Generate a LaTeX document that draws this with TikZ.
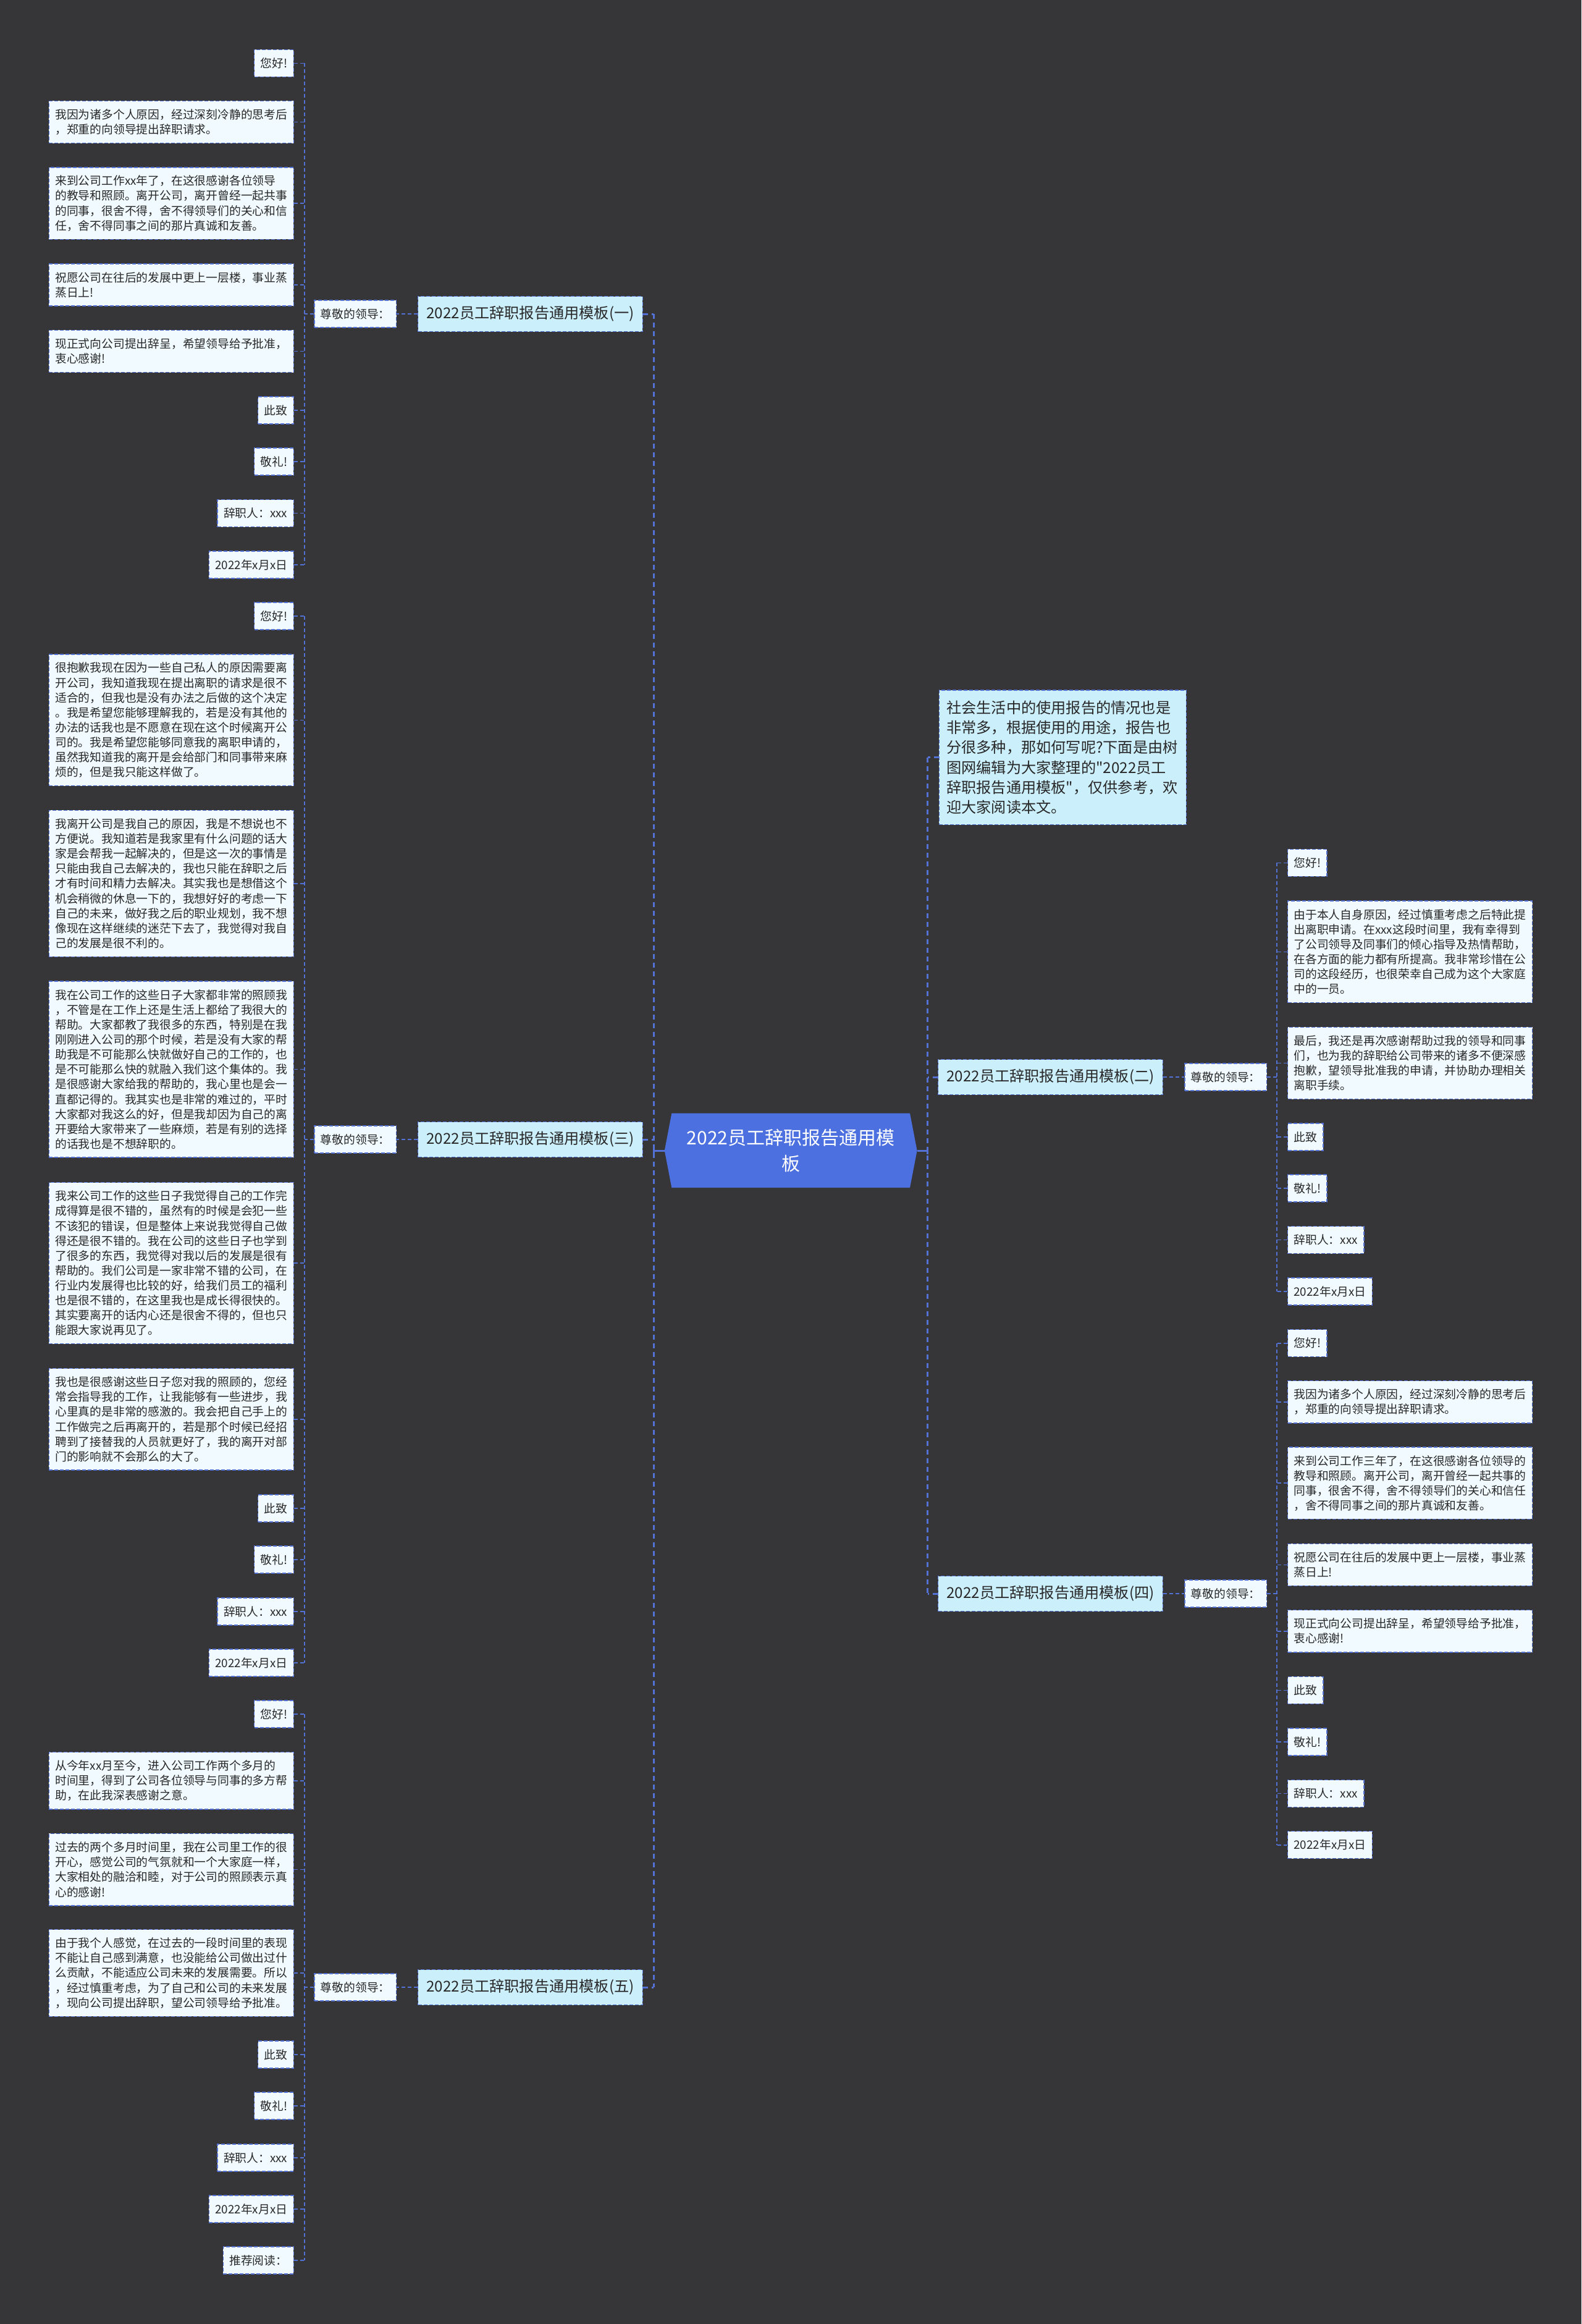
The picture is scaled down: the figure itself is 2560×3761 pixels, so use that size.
\documentclass[tikz,border=0pt]{standalone}
\usepackage{fontspec}
\newfontfamily\cjk{Noto Sans CJK SC}
\definecolor{bg}{RGB}{54,53,56}
\definecolor{leaffill}{RGB}{240,250,255}
\definecolor{branchfill}{RGB}{204,239,252}
\definecolor{rootfill}{RGB}{76,112,224}
\definecolor{edge}{RGB}{84,114,214}
\definecolor{txt}{RGB}{40,40,40}
\begin{document}
\begin{tikzpicture}[x=1pt,y=-1pt,
  box/.style={draw=edge, line width=1.4pt, dash pattern=on 6pt off 3pt, text=txt},
  leaf/.style={box, fill=leaffill, font=\cjk\fontsize{18.8}{24.1}\selectfont, inner xsep=10pt, inner ysep=2pt, align=left, minimum height=44pt},
  nl/.style={minimum height={#1*24.1pt+20pt}},
  wide/.style={text width=376pt},
  branch/.style={box, fill=branchfill, font=\cjk\fontsize{24.2}{30}\selectfont, minimum width=363.5pt, minimum height=57pt, inner xsep=12pt},
  intro/.style={box, fill=branchfill, font=\cjk\fontsize{24.2}{32.1}\selectfont, text width=376pt, inner xsep=12pt, inner ysep=2pt, minimum height=217.6pt, align=left},
  rootnode/.style={font=\cjk\fontsize{30}{42.8}\selectfont, text=white, align=center, minimum width=409pt, minimum height=120pt, inner sep=0pt},
  conn/.style={draw=edge, line width=1.6pt, dash pattern=on 6pt off 4pt},
  trunk/.style={draw=edge, line width=3pt, dash pattern=on 8pt off 6pt},
  rootlink/.style={draw=edge, line width=3pt}
]
\useasboundingbox (0,0) rectangle (2560,3761);
\fill[bg] (0,0) rectangle (2560,3761);

% root hexagon
\fill[rootfill] (1087.3,1801.7) -- (1473,1801.7) -- (1484.6,1862) -- (1473,1922) -- (1087.3,1922) -- (1075.8,1862) -- cycle;
\node[rootnode] (root) at (1280.2,1862) {2022员工辞职报告通用模\\板};

\coordinate (sL) at (493,0);
\coordinate (sR) at (2067,0);
\coordinate (tL) at (1058,0);
\coordinate (tR) at (1501.8,0);

% branches
\node[branch] (t1) at (858.5,508) {2022员工辞职报告通用模板(一)};
\node[branch] (t3) at (858.5,1844) {2022员工辞职报告通用模板(三)};
\node[branch] (t5) at (858.5,3216) {2022员工辞职报告通用模板(五)};
\node[branch] (t2) at (1700.5,1743) {2022员工辞职报告通用模板(二)};
\node[branch] (t4) at (1700.5,2579) {2022员工辞职报告通用模板(四)};
\node[intro, anchor=west] (intro) at (1519.6,1225.8) {社会生活中的使用报告的情况也是\\非常多，根据使用的用途，报告也\\分很多种，那如何写呢?下面是由树\\图网编辑为大家整理的"2022员工\\辞职报告通用模板"，仅供参考，欢\\迎大家阅读本文。};

\node[leaf, anchor=east] (z1) at (642.3,508) {尊敬的领导：};
\node[leaf, anchor=east] (z3) at (642.3,1844) {尊敬的领导：};
\node[leaf, anchor=east] (z5) at (642.3,3216) {尊敬的领导：};
\node[leaf, anchor=west] (z2) at (1917.2,1743) {尊敬的领导：};
\node[leaf, anchor=west] (z4) at (1917.2,2579) {尊敬的领导：};

% group 1
\node[leaf, anchor=east] (a1) at (476,102.4) {您好!};
\node[leaf, wide, nl=2, anchor=east] (a2) at (476,197.5) {我因为诸多个人原因，经过深刻冷静的思考后\\，郑重的向领导提出辞职请求。};
\node[leaf, wide, nl=4, anchor=east] (a3) at (476,329) {来到公司工作xx年了，在这很感谢各位领导\\的教导和照顾。离开公司，离开曾经一起共事\\的同事，很舍不得，舍不得领导们的关心和信\\任，舍不得同事之间的那片真诚和友善。};
\node[leaf, wide, nl=2, anchor=east] (a4) at (476,461) {祝愿公司在往后的发展中更上一层楼，事业蒸\\蒸日上!};
\node[leaf, wide, nl=2, anchor=east] (a5) at (476,568.5) {现正式向公司提出辞呈，希望领导给予批准，\\衷心感谢!};
\node[leaf, anchor=east] (a6) at (476,664) {此致};
\node[leaf, anchor=east] (a7) at (476,747) {敬礼!};
\node[leaf, anchor=east] (a8) at (476,830.5) {辞职人：xxx};
\node[leaf, anchor=east] (a9) at (476,914) {2022年x月x日};

% group 3
\node[leaf, anchor=east] (c1) at (476,997) {您好!};
\node[leaf, wide, nl=8, anchor=east] (c2) at (476,1165.3) {很抱歉我现在因为一些自己私人的原因需要离\\开公司，我知道我现在提出离职的请求是很不\\适合的，但我也是没有办法之后做的这个决定\\。我是希望您能够理解我的，若是没有其他的\\办法的话我也是不愿意在现在这个时候离开公\\司的。我是希望您能够同意我的离职申请的，\\虽然我知道我的离开是会给部门和同事带来麻\\烦的，但是我只能这样做了。};
\node[leaf, wide, nl=9, anchor=east] (c3) at (476,1429.8) {我离开公司是我自己的原因，我是不想说也不\\方便说。我知道若是我家里有什么问题的话大\\家是会帮我一起解决的，但是这一次的事情是\\只能由我自己去解决的，我也只能在辞职之后\\才有时间和精力去解决。其实我也是想借这个\\机会稍微的休息一下的，我想好好的考虑一下\\自己的未来，做好我之后的职业规划，我不想\\像现在这样继续的迷茫下去了，我觉得对我自\\己的发展是很不利的。};
\node[leaf, wide, nl=11, anchor=east] (c4) at (476,1730.6) {我在公司工作的这些日子大家都非常的照顾我\\，不管是在工作上还是生活上都给了我很大的\\帮助。大家都教了我很多的东西，特别是在我\\刚刚进入公司的那个时候，若是没有大家的帮\\助我是不可能那么快就做好自己的工作的，也\\是不可能那么快的就融入我们这个集体的。我\\是很感谢大家给我的帮助的，我心里也是会一\\直都记得的。我其实也是非常的难过的，平时\\大家都对我这么的好，但是我却因为自己的离\\开要给大家带来了一些麻烦，若是有别的选择\\的话我也是不想辞职的。};
\node[leaf, wide, nl=10, anchor=east] (c5) at (476,2044.1) {我来公司工作的这些日子我觉得自己的工作完\\成得算是很不错的，虽然有的时候是会犯一些\\不该犯的错误，但是整体上来说我觉得自己做\\得还是很不错的。我在公司的这些日子也学到\\了很多的东西，我觉得对我以后的发展是很有\\帮助的。我们公司是一家非常不错的公司，在\\行业内发展得也比较的好，给我们员工的福利\\也是很不错的，在这里我也是成长得很快的。\\其实要离开的话内心还是很舍不得的，但也只\\能跟大家说再见了。};
\node[leaf, wide, nl=6, anchor=east] (c6) at (476,2296.8) {我也是很感谢这些日子您对我的照顾的，您经\\常会指导我的工作，让我能够有一些进步，我\\心里真的是非常的感激的。我会把自己手上的\\工作做完之后再离开的，若是那个时候已经招\\聘到了接替我的人员就更好了，我的离开对部\\门的影响就不会那么的大了。};
\node[leaf, anchor=east] (c7) at (476,2441) {此致};
\node[leaf, anchor=east] (c8) at (476,2524) {敬礼!};
\node[leaf, anchor=east] (c9) at (476,2608) {辞职人：xxx};
\node[leaf, anchor=east] (c10) at (476,2691) {2022年x月x日};

% group 5
\node[leaf, anchor=east] (e1) at (476,2774) {您好!};
\node[leaf, wide, nl=3, anchor=east] (e2) at (476,2881.7) {从今年xx月至今，进入公司工作两个多月的\\时间里，得到了公司各位领导与同事的多方帮\\助，在此我深表感谢之意。};
\node[leaf, wide, nl=4, anchor=east] (e3) at (476,3025.6) {过去的两个多月时间里，我在公司里工作的很\\开心，感觉公司的气氛就和一个大家庭一样，\\大家相处的融洽和睦，对于公司的照顾表示真\\心的感谢!};
\node[leaf, wide, nl=5, anchor=east] (e4) at (476,3193) {由于我个人感觉，在过去的一段时间里的表现\\不能让自己感到满意，也没能给公司做出过什\\么贡献，不能适应公司未来的发展需要。所以\\，经过慎重考虑，为了自己和公司的未来发展\\，现向公司提出辞职，望公司领导给予批准。};
\node[leaf, anchor=east] (e5) at (476,3325) {此致};
\node[leaf, anchor=east] (e6) at (476,3408) {敬礼!};
\node[leaf, anchor=east] (e7) at (476,3492) {辞职人：xxx};
\node[leaf, anchor=east] (e8) at (476,3575) {2022年x月x日};
\node[leaf, anchor=east] (e9) at (476,3658) {推荐阅读：};

% group 2
\node[leaf, anchor=west] (b1) at (2083.8,1396.4) {您好!};
\node[leaf, wide, nl=6, anchor=west] (b2) at (2083.8,1540.4) {由于本人自身原因，经过慎重考虑之后特此提\\出离职申请。在xxx这段时间里，我有幸得到\\了公司领导及同事们的倾心指导及热情帮助，\\在各方面的能力都有所提高。我非常珍惜在公\\司的这段经历，也很荣幸自己成为这个大家庭\\中的一员。};
\node[leaf, wide, nl=4, anchor=west] (b3) at (2083.8,1720.4) {最后，我还是再次感谢帮助过我的领导和同事\\们，也为我的辞职给公司带来的诸多不便深感\\抱歉，望领导批准我的申请，并协助办理相关\\离职手续。};
\node[leaf, anchor=west] (b4) at (2083.8,1840) {此致};
\node[leaf, anchor=west] (b5) at (2083.8,1923) {敬礼!};
\node[leaf, anchor=west] (b6) at (2083.8,2006.5) {辞职人：xxx};
\node[leaf, anchor=west] (b7) at (2083.8,2090) {2022年x月x日};

% group 4
\node[leaf, anchor=west] (d1) at (2083.8,2173.7) {您好!};
\node[leaf, wide, nl=2, anchor=west] (d2) at (2083.8,2268.8) {我因为诸多个人原因，经过深刻冷静的思考后\\，郑重的向领导提出辞职请求。};
\node[leaf, wide, nl=4, anchor=west] (d3) at (2083.8,2400.2) {来到公司工作三年了，在这很感谢各位领导的\\教导和照顾。离开公司，离开曾经一起共事的\\同事，很舍不得，舍不得领导们的关心和信任\\，舍不得同事之间的那片真诚和友善。};
\node[leaf, wide, nl=2, anchor=west] (d4) at (2083.8,2532.3) {祝愿公司在往后的发展中更上一层楼，事业蒸\\蒸日上!};
\node[leaf, wide, nl=2, anchor=west] (d5) at (2083.8,2639.7) {现正式向公司提出辞呈，希望领导给予批准，\\衷心感谢!};
\node[leaf, anchor=west] (d6) at (2083.8,2735.4) {此致};
\node[leaf, anchor=west] (d7) at (2083.8,2819) {敬礼!};
\node[leaf, anchor=west] (d8) at (2083.8,2902.5) {辞职人：xxx};
\node[leaf, anchor=west] (d9) at (2083.8,2985.7) {2022年x月x日};

% trunk connectors
\draw[rootlink] (root.west) -- (root.west -| tL);
\draw[rootlink] ([yshift=-6pt]root.west -| tL) -- ([yshift=6pt]root.west -| tL);
\draw[trunk] (t1.east -| tL) -- (t5.east -| tL);
\foreach \n in {t1,t3,t5} \draw[trunk] (\n.east) -- (\n.east -| tL);
\draw[rootlink] (root.east) -- (root.east -| tR);
\draw[rootlink] ([yshift=-6pt]root.east -| tR) -- ([yshift=6pt]root.east -| tR);
\draw[trunk] (intro.west -| tR) -- (t4.west -| tR);
\foreach \n in {intro,t2,t4} \draw[trunk] (\n.west) -- (\n.west -| tR);

% branch to greeting
\foreach \i in {1,3,5} \draw[conn] (t\i.west) -- (z\i.east);
\foreach \i in {2,4} \draw[conn] (t\i.east) -- (z\i.west);

% left groups
\foreach \g/\k in {a/9,c/10,e/9} {
  \draw[conn] (\g1.east -| sL) -- (\g\k.east -| sL);
  \foreach \i in {1,...,\k} \draw[conn] (\g\i.east) -- (\g\i.east -| sL);
}
\foreach \i in {1,3,5} \draw[conn] (z\i.west) -- (z\i.west -| sL);

% right groups
\foreach \g/\k in {b/7,d/9} {
  \draw[conn] (\g1.west -| sR) -- (\g\k.west -| sR);
  \foreach \i in {1,...,\k} \draw[conn] (\g\i.west) -- (\g\i.west -| sR);
}
\foreach \i in {2,4} \draw[conn] (z\i.east) -- (z\i.east -| sR);
\end{tikzpicture}
\end{document}
